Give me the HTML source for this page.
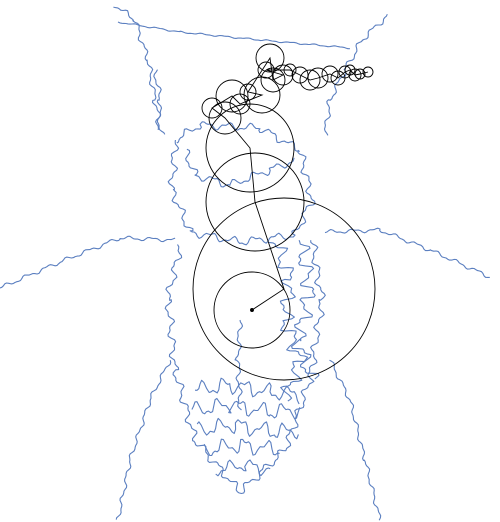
<!DOCTYPE html>
<html><head><meta charset="utf-8"><style>
html,body{margin:0;padding:0;background:#fff;}
svg{display:block;}
</style></head><body>
<svg id="chart" width="500" height="522" viewBox="0 0 500 522" xmlns="http://www.w3.org/2000/svg">
<g id="outline" fill="none" stroke="#5b7fc0" stroke-width="1.1" stroke-linejoin="round"></g>
<g id="circles" fill="none" stroke="#000" stroke-width="0.9"></g>
</svg>
<script>
// epicycle circles: center x, center y, radius
const circleX = [252,284,255,250,225,212,232,240,262,248,270,273,283,266,290,300,310,318,330,338,345,350,355,360,368];
const circleY = [310,289,202,148,118,108,96,104,95,92,58,80,75,70,70,75,80,78,74,78,72,70,75,74,72];
const circleR = [38,91,49,44,16,10,16,10,18,8,14,12,10,8,6,8,10,10,8,7,6,5,6,5,5];
// outline strokes (anchor points x,y) and wiggle amplitude per stroke
const strokes = [
 [[118,22],[180,32],[260,40],[350,48]],
 [[115,5],[135,20],[148,60],[155,100],[162,135]],
 [[388,15],[362,40],[345,70],[330,100],[325,135]],
 [[0,288],[60,262],[120,238],[175,240]],
 [[490,277],[430,250],[380,230],[325,232]],
 [[118,520],[130,460],[150,400],[170,360]],
 [[380,520],[365,460],[350,400],[330,360]],
 [[175,140],[200,125],[260,128],[300,150],[312,200],[295,235],[240,242],[190,232],[172,190],[175,140]],
 [[180,245],[168,300],[175,370],[195,440],[240,492],[285,450],[310,380],[322,300],[312,240]],
 [[195,390],[230,385],[270,392],[300,395]],
 [[192,410],[230,405],[270,412],[300,410]],
 [[198,430],[235,425],[275,432],[298,430]],
 [[205,450],[240,445],[280,450]],
 [[215,470],[245,465],[270,470]],
 [[275,240],[290,280],[285,320],[300,360],[285,400]],
 [[300,240],[310,290],[298,340],[312,380]],
 [[240,320],[238,360],[240,410]],
 [[185,150],[195,175],[230,185],[270,170],[295,160]],
 [[155,70],[160,100],[158,130]]
];
const amps = [0.6,2,2,1.5,1.5,1.5,1.5,3,3,6,6,6,6,5,6,6,2,3,2];
const og = document.getElementById('outline');
strokes.forEach((pts,si)=>{
  const A = amps[si];
  let d='';
  let kk=0;
  for(let i=0;i<pts.length-1;i++){
    const [x0,y0]=pts[i],[x1,y1]=pts[i+1];
    const len=Math.hypot(x1-x0,y1-y0), n=Math.max(2,Math.round(len/2));
    const nx=-(y1-y0)/len, ny=(x1-x0)/len;
    for(let k=0;k<=n;k++,kk++){
      const t=k/n;
      const w=A*(Math.sin(kk*0.55+si)+0.5*Math.sin(kk*1.3+2*si));
      const x=x0+(x1-x0)*t+nx*w, y=y0+(y1-y0)*t+ny*w;
      d+=(d?'L':'M')+x.toFixed(1)+' '+y.toFixed(1);
    }
  }
  const p=document.createElementNS('http://www.w3.org/2000/svg','path');
  p.setAttribute('d',d);
  
  
  og.appendChild(p);
});
const cg=document.getElementById('circles');
let chain='';
circleX.forEach((cx,i)=>{
  const c=document.createElementNS('http://www.w3.org/2000/svg','circle');
  c.setAttribute('cx',cx);c.setAttribute('cy',circleY[i]);c.setAttribute('r',circleR[i]);
  
  
  cg.appendChild(c);
  chain+=(chain?'L':'M')+cx+' '+circleY[i];
});
const ln=document.createElementNS('http://www.w3.org/2000/svg','path');
ln.setAttribute('d',chain);


cg.appendChild(ln);
const dot=document.createElementNS('http://www.w3.org/2000/svg','circle');
dot.setAttribute('cx',circleX[0]);dot.setAttribute('cy',circleY[0]);dot.setAttribute('r',1.5);dot.setAttribute('fill','#000');


cg.appendChild(dot);
</script>
</body></html>
